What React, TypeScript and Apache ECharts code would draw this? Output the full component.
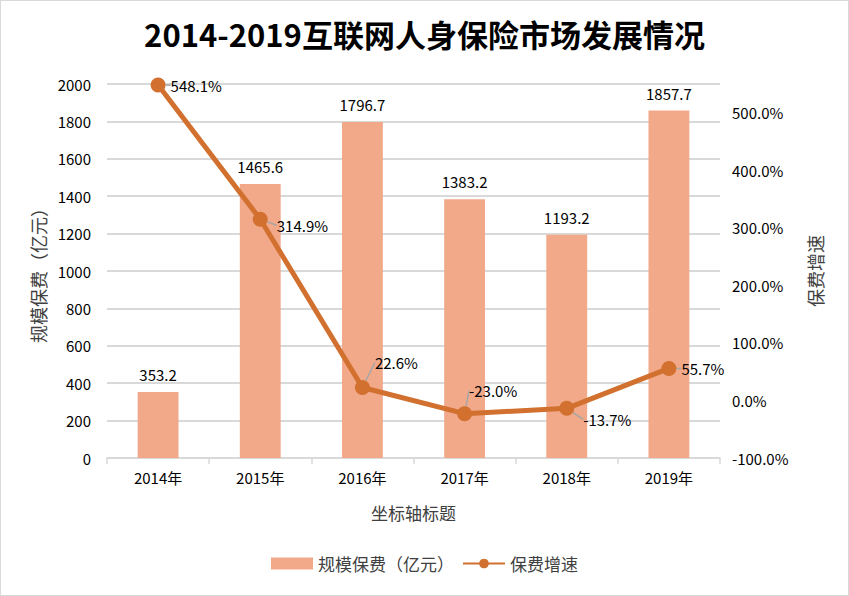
import React, { useRef, useEffect } from 'react';
import * as echarts from 'echarts';

// 数据
const years = ['2014年', '2015年', '2016年', '2017年', '2018年', '2019年'];
const premium = [353.2, 1465.6, 1796.7, 1383.2, 1193.2, 1857.7]; // 亿元
const growth = [548.1, 314.9, 22.6, -23.0, -13.7, 55.7]; // %

// label nudges for the growth labels (Excel-style leader lines)
const labelShift = [
  [0, 0],
  [4, 6],
  [0, -25],
  [-8, -23],
  [4, 11],
  [0, 0],
];

const FONT = '"Noto Sans CJK SC", "Noto Sans", sans-serif';
const BAR_COLOR = '#f1a98a';
const LINE_COLOR = '#d2712f';

const App = () => {
  const chartRef = useRef(null);

  useEffect(() => {
    document.body.style.margin = '0';
    const myChart = echarts.init(chartRef.current, null, { renderer: 'svg' });

    const option = {
      animation: false,
      backgroundColor: '#fff',
      textStyle: { fontFamily: FONT },
      title: {
        text: '2014-2019互联网人身保险市场发展情况',
        left: 'center',
        top: 12,
        textStyle: { fontSize: 31, fontWeight: 'bold', color: '#000', fontFamily: FONT },
      },
      legend: {
        bottom: 18,
        left: 'center',
        itemWidth: 42,
        itemHeight: 12,
        itemGap: 8,
        textStyle: { fontSize: 17, color: '#404040' },
        data: [
          { name: '规模保费（亿元）', icon: 'rect' },
          { name: '保费增速' },
        ],
      },
      grid: { left: 106, right: 128, top: 83, bottom: 137 },
      xAxis: {
        type: 'category',
        data: years,
        name: '坐标轴标题',
        nameLocation: 'middle',
        nameGap: 46,
        nameTextStyle: { fontSize: 17, color: '#404040' },
        axisLine: { lineStyle: { color: '#d9d9d9', width: 1.5 } },
        axisTick: { show: true, length: 6, lineStyle: { color: '#d9d9d9', width: 1.5 } },
        axisLabel: { fontSize: 15, color: '#000', margin: 12 },
      },
      yAxis: [
        {
          type: 'value',
          min: 0,
          max: 2000,
          interval: 200,
          name: '规模保费（亿元）',
          nameLocation: 'middle',
          nameGap: 60,
          nameRotate: 90,
          nameTextStyle: { fontSize: 18, color: '#404040' },
          axisLine: { show: false },
          axisTick: { show: false },
          axisLabel: { fontSize: 15, color: '#000', margin: 16, formatter: (v) => String(v) },
          splitLine: { lineStyle: { color: '#d9d9d9', width: 2 } },
        },
        {
          type: 'value',
          min: -100,
          max: 550,
          interval: 100,
          name: '保费增速',
          nameLocation: 'middle',
          nameGap: 86,
          nameRotate: 90,
          nameTextStyle: { fontSize: 18, color: '#404040' },
          axisLine: { show: false },
          axisTick: { show: false },
          splitLine: { show: false },
          axisLabel: {
            fontSize: 15,
            color: '#000',
            margin: 12,
            showMaxLabel: false,
            formatter: (v) => (v > 500 ? '' : v.toFixed(1) + '%'),
          },
        },
      ],
      series: [
        {
          name: '规模保费（亿元）',
          type: 'bar',
          data: premium,
          barWidth: '40%',
          itemStyle: { color: BAR_COLOR },
          label: {
            show: true,
            position: 'top',
            distance: 10,
            fontSize: 15,
            color: '#000',
            formatter: (p) => p.value.toFixed(1),
          },
        },
        {
          name: '保费增速',
          type: 'line',
          yAxisIndex: 1,
          data: growth,
          symbol: 'circle',
          symbolSize: 15,
          lineStyle: { color: LINE_COLOR, width: 5 },
          itemStyle: { color: LINE_COLOR },
          label: {
            show: true,
            position: 'right',
            distance: 5,
            fontSize: 15,
            color: '#000',
            formatter: (p) => p.value.toFixed(1) + '%',
          },
          labelLine: { show: true, lineStyle: { color: '#a6a6a6', width: 1.5 } },
          labelLayout: (params) => {
            const s = labelShift[params.dataIndex] || [0, 0];
            return { dx: s[0], dy: s[1] };
          },
        },
      ],
    };

    myChart.setOption(option);

    return () => {
      myChart.dispose();
    };
  }, []);

  return (
    <div
      ref={chartRef}
      style={{ width: '849px', height: '596px', boxSizing: 'border-box', border: '1px solid #d9d9d9' }}
    />
  );
};

export default App;
